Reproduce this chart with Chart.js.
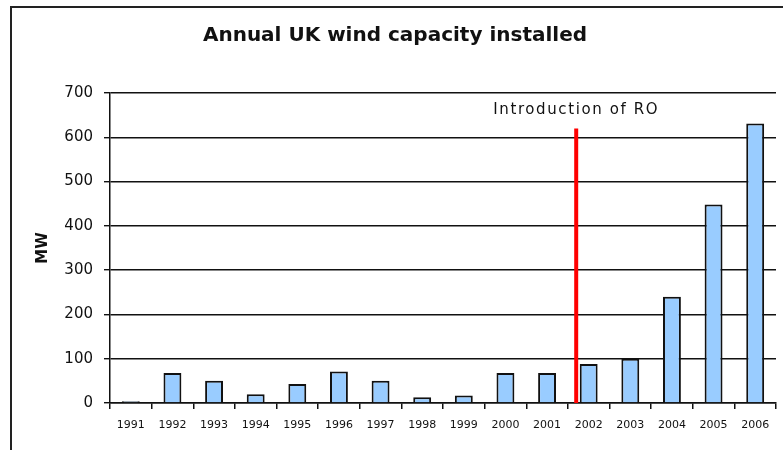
<!DOCTYPE html>
<html>
<head>
<meta charset="utf-8">
<script src="https://cdn.jsdelivr.net/npm/chart.js@4"></script>
<style>
  html, body { margin: 0; padding: 0; background: #fff; overflow: hidden; }
  .wrap { position: relative; width: 783px; height: 450px; }
  .frame { position: absolute; left: 10px; top: 6px; width: 800px; height: 500px; border-left: 2px solid #222; border-top: 2px solid #222; }
  canvas { position: absolute; left: 0; top: 0; }
</style>
</head>
<body>
<div class="wrap">
  <div class="frame"></div>
  <canvas id="windChart" width="783" height="450"></canvas>
</div>
<script>
const years = ['1991','1992','1993','1994','1995','1996','1997','1998','1999','2000','2001','2002','2003','2004','2005','2006'];
const capacityMW = [4, 68, 50, 20, 43, 71, 50, 13, 17, 68, 68, 88, 100, 240, 448, 631];
const yTicks = [0, 100, 200, 300, 400, 500, 600, 700];

// RO marker: sits just before the 2002 bar
const roPosition = 10.7;
const roTop = 620;
const roLabel = 'Introduction of RO';

const FONT = '"DejaVu Sans", Verdana, sans-serif';

// draws the red policy line and its caption on the category scale
const roMarker = {
  id: 'roMarker',
  afterDatasetsDraw(chart) {
    const { ctx, scales: { x, y } } = chart;
    const px = x.getPixelForValue(roPosition);
    ctx.save();
    ctx.strokeStyle = '#ff0000';
    ctx.lineWidth = 4;
    ctx.beginPath();
    ctx.moveTo(px, y.getPixelForValue(roTop));
    ctx.lineTo(px, y.getPixelForValue(0));
    ctx.stroke();
    ctx.fillStyle = '#111';
    ctx.font = '15px ' + FONT;
    ctx.letterSpacing = '1.6px';
    ctx.textAlign = 'center';
    ctx.textBaseline = 'middle';
    ctx.fillText(roLabel, px, y.getPixelForValue(662));
    ctx.restore();
  }
};

new Chart(document.getElementById('windChart'), {
  type: 'bar',
  data: {
    labels: years,
    datasets: [{
      data: capacityMW,
      backgroundColor: '#99ccff',
      borderColor: '#111',
      borderWidth: 2,
      categoryPercentage: 1,
      barPercentage: 0.43
    }]
  },
  options: {
    responsive: false,
    animation: false,
    layout: { padding: { left: 14, right: 7, top: 0, bottom: 0 } },
    plugins: {
      legend: { display: false },
      tooltip: { enabled: false },
      title: {
        display: true,
        text: 'Annual UK wind capacity installed',
        color: '#111',
        font: { family: FONT, size: 20, weight: 'bold' },
        padding: { top: 24, bottom: 45 }
      }
    },
    scales: {
      x: {
        grid: { display: true, offset: true, drawOnChartArea: false, color: '#111', tickLength: 6, lineWidth: 1.5 },
        border: { color: '#111', width: 1.5 },
        ticks: { color: '#111', font: { family: FONT, size: 11 }, padding: 10, maxRotation: 0, autoSkip: false },
        afterFit(scale) { scale.height = 47; }
      },
      y: {
        min: 0,
        max: 700,
        afterBuildTicks(scale) { scale.ticks = yTicks.map(v => ({ value: v })); },
        grid: { color: '#111', lineWidth: 1.4, tickLength: 6 },
        border: { color: '#111', width: 1.5 },
        ticks: { color: '#111', font: { family: FONT, size: 15 }, padding: 11 },
        title: { display: true, text: 'MW', color: '#111', font: { family: FONT, size: 15, weight: 'bold' }, padding: { top: 20, bottom: 0 } },
        afterFit(scale) { scale.width = 96; }
      }
    }
  },
  plugins: [roMarker]
});
</script>
</body>
</html>
